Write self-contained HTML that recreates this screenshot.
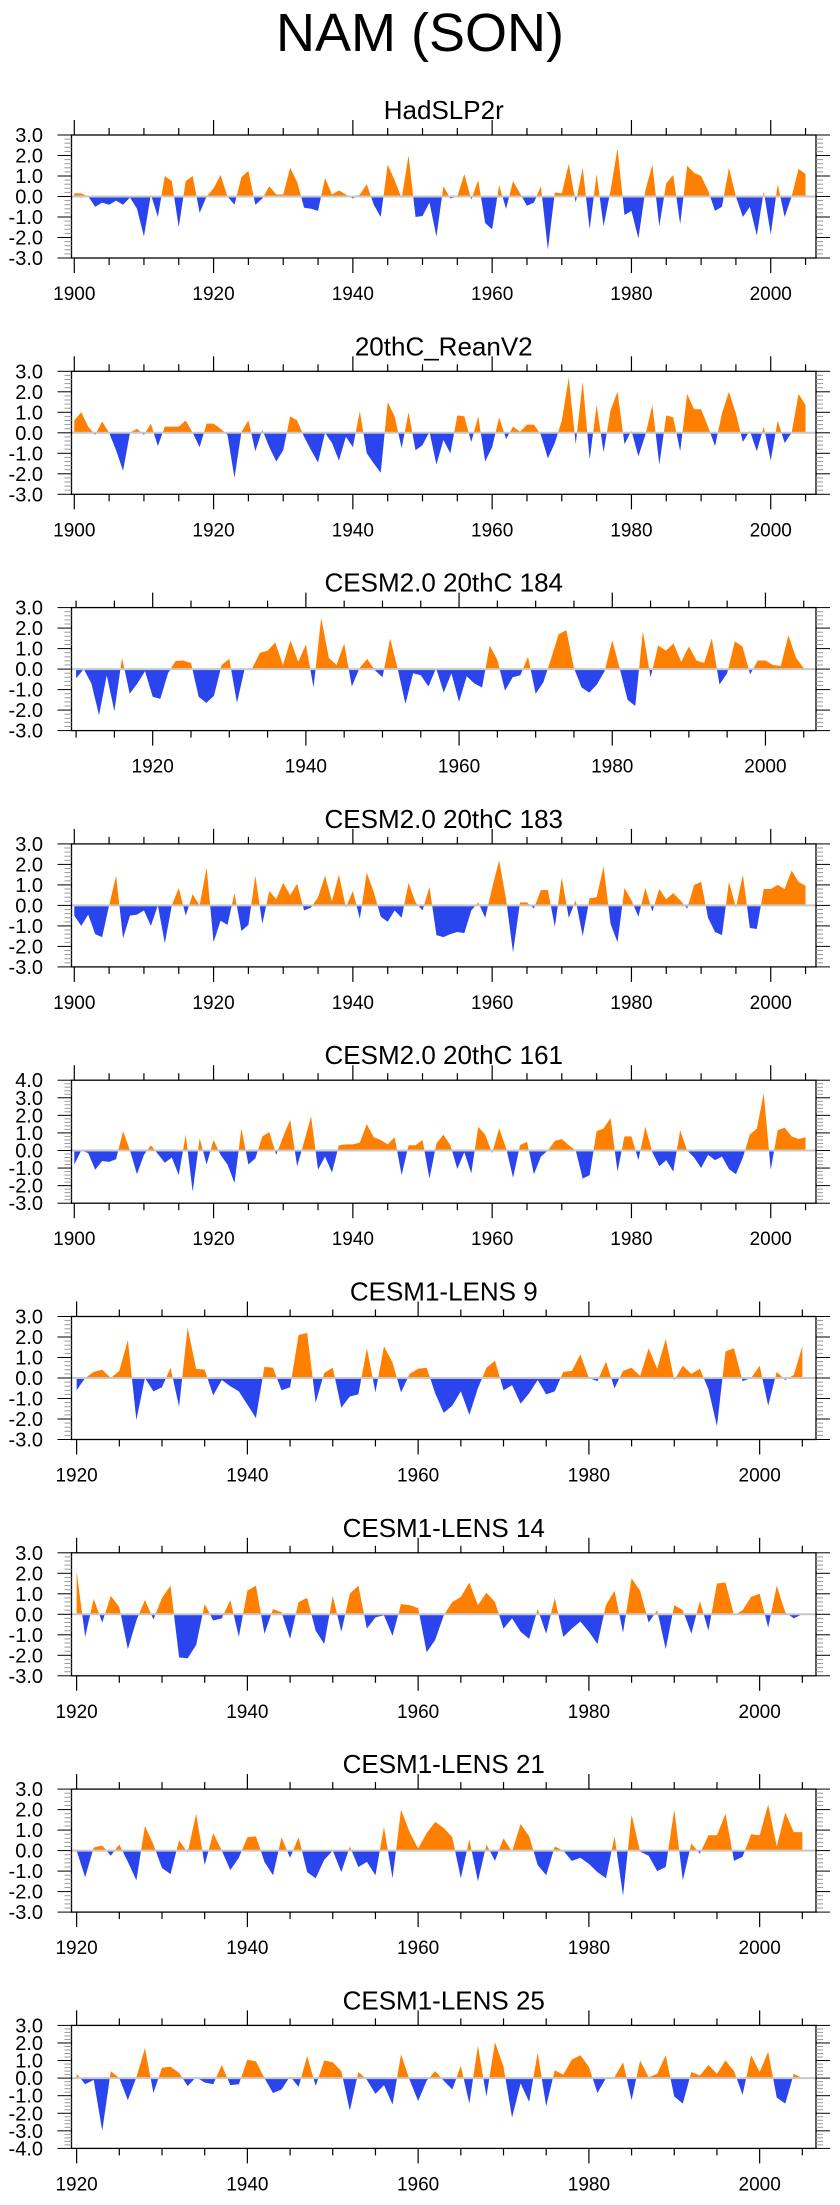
<!DOCTYPE html>
<html><head><meta charset="utf-8">
<style>
html,body{margin:0;padding:0;background:#fff;}
body{width:840px;height:2200px;overflow:hidden;font-family:"Liberation Sans",Arial,sans-serif;}
svg text{font-family:"Liberation Sans",Arial,sans-serif;fill:#000;}
</style></head>
<body>
<svg id="chart" width="840" height="2200" viewBox="0 0 840 2200" xmlns="http://www.w3.org/2000/svg">
<text x="420" y="51" font-size="54" text-anchor="middle">NAM (SON)</text>
</svg>
<script>
const titles = ["HadSLP2r","20thC_ReanV2","CESM2.0 20thC 184","CESM2.0 20thC 183","CESM2.0 20thC 161","CESM1-LENS 9","CESM1-LENS 14","CESM1-LENS 21","CESM1-LENS 25"];
const startYears = [1900,1900,1910,1900,1900,1920,1920,1920,1920];
const yMins = [-3,-3,-3,-3,-3,-3,-3,-3,-4];
const yMaxs = [3,3,3,3,4,3,3,3,3];
const xMins = [1899.6,1899.6,1909.4,1899.6,1899.6,1919.4,1919.4,1919.4,1919.4];
const xMaxs = [2006.5,2006.5,2006.6,2006.5,2006.5,2006.6,2006.6,2006.6,2006.6];
const s1 = [0.16,0.15,0,-0.5,-0.3,-0.4,-0.2,-0.4,-0.05,-0.6,-1.95,0.1,-1.0,1.0,0.75,-1.5,0.75,1.0,-0.8,0,0.4,1.05,0,-0.4,0.95,1.25,-0.4,-0.1,0.5,0.1,0.1,1.4,0.7,-0.55,-0.6,-0.7,0.9,0.1,0.3,0.1,-0.1,0.1,0.6,-0.4,-1.0,1.55,0.8,-0.1,2.0,-1.0,-0.95,-0.3,-1.95,0.5,-0.1,0,1.1,-0.15,0.8,-1.3,-1.6,0.55,-0.6,0.75,0.15,-0.45,-0.3,0.5,-2.6,0.2,0.15,1.6,-0.3,1.4,-1.6,1.1,-1.45,0.3,2.35,-0.9,-0.7,-2.05,0.3,1.55,-1.45,0.65,1.05,-1.35,1.5,1.15,1.0,0.3,-0.7,-0.5,1.4,0,-1.0,-0.5,-1.9,0.25,-1.85,0.6,-1.0,0,1.35,1.1];
const s2 = [0.6,1.0,0.3,-0.1,0.55,0,-0.85,-1.85,0,0.2,-0.1,0.45,-0.65,0.3,0.3,0.3,0.6,0,-0.7,0.45,0.45,0.2,-0.1,-2.2,0.05,0.6,-0.9,0.15,-0.7,-1.4,-0.85,0.8,0.6,-0.2,-0.85,-1.45,0,-0.5,-1.35,-0.2,-0.7,1.05,-1.0,-1.5,-1.95,1.5,0.8,-0.75,1.0,-0.85,-0.6,0.05,-1.55,-0.35,-1.0,0.85,0.8,-0.45,0.8,-1.4,-0.7,0.75,-0.3,0.3,0.05,0.4,0.4,-0.1,-1.25,-0.5,0.6,2.7,-0.55,2.5,-1.3,1.35,-0.95,1.1,2.0,-0.55,0.1,-1.15,-0.1,1.35,-1.55,0.85,0.75,-0.9,1.9,1.15,1.15,0.3,-0.65,0.95,2.0,0.95,-0.45,0.1,-0.9,0.3,-1.35,0.6,-0.5,0,1.9,1.35];
const s3 = [-0.45,0,-0.7,-2.25,-0.3,-2.05,0.55,-1.2,-0.7,-0.1,-1.35,-1.45,-0.2,0.4,0.42,0.3,-1.35,-1.65,-1.3,0.2,0.5,-1.65,0,0.05,0.8,0.9,1.3,0.2,1.4,0.35,1.2,-0.9,2.5,0.55,0.2,1.25,-0.85,0.05,0.5,-0.05,-0.4,1.5,0,-1.7,-0.2,-0.3,-0.85,0.05,-1.15,-0.2,-1.6,-0.35,-0.7,-0.9,1.15,0.45,-1.05,-0.4,-0.3,0.6,-1.2,-0.65,0.5,1.7,1.9,0.05,-0.9,-1.15,-0.75,-0.1,1.4,0,-1.5,-1.8,1.85,-0.4,1.15,0.9,1.25,0.35,1.1,0.42,0.3,1.5,-0.75,-0.2,1.35,1.1,-0.25,0.42,0.42,0.2,0.15,1.65,0.55,0.05];
const s4 = [-0.5,-1.0,-0.45,-1.4,-1.55,0,1.45,-1.6,-0.5,-0.45,-0.25,-1.0,0,-1.85,0,0.85,-0.5,0.55,0,1.85,-1.8,-0.75,-0.95,0.6,-1.25,-0.95,1.45,-0.9,0.7,0.3,1.1,0.5,1.05,-0.25,-0.1,0.4,1.45,0.2,1.5,-0.1,0.7,-0.65,1.6,0.65,-0.55,-0.8,-0.25,-0.6,1.1,0.15,-0.25,0.9,-1.45,-1.55,-1.4,-1.3,-1.35,-0.25,0.15,-0.6,0.85,2.2,0.3,-2.3,0.15,0.15,-0.15,0.75,0.75,-1.05,1.35,-0.6,0.25,-1.5,0.35,0.4,1.9,-0.9,-1.8,0.85,0.25,-0.55,0.85,-0.3,0.8,0.3,0.6,0.25,-0.15,1.0,1.15,-0.6,-1.3,-1.45,1.15,-0.1,1.5,-1.1,-1.15,0.8,0.8,1.0,0.8,1.7,1.15,0.95];
const s5 = [-0.8,0,-0.15,-1.1,-0.6,-0.65,-0.5,1.1,0,-1.35,-0.25,0.3,-0.2,-0.7,-0.4,-1.4,0.9,-2.35,0.7,-0.8,0.6,-0.25,-0.8,-1.85,1.25,-0.8,-0.45,0.8,1.05,-0.25,0.8,1.75,-0.9,0.5,1.95,-1.1,-0.35,-1.25,0.3,0.35,0.35,0.45,1.5,0.75,0.6,0.35,0.75,-1.4,0.3,0.3,0.6,-1.6,0.4,0.9,0.3,-1.05,-0.1,-1.3,1.35,0.9,-0.15,1.25,0.15,-1.55,0.3,0.5,-1.35,-0.35,0,0.55,0.65,0.3,0,-1.6,-1.4,1.1,1.25,1.85,-1.2,0.8,0.8,-0.55,1.35,-0.1,-0.9,-0.55,-1.2,1.15,0,-0.4,-1.0,-0.25,-0.55,-0.35,-1.05,-1.35,-0.4,0.9,1.25,3.25,-1.1,1.15,1.3,0.8,0.65,0.75];
const s6 = [-0.6,0,0.3,0.4,0,0.35,1.85,-2.05,0,-0.65,-0.45,0.5,-1.4,2.45,0.45,0.4,-0.85,-0.1,-0.4,-0.65,-1.3,-1.95,0.55,0.5,-0.6,-0.45,2.1,2.2,-1.2,0.25,0.5,-1.45,-0.9,-0.8,1.45,-0.7,1.55,0.75,-0.7,0.2,0.45,0.5,-0.75,-1.7,-1.35,-0.65,-1.8,-0.5,0.5,0.85,-0.6,-0.35,-1.25,-0.75,-0.1,-0.8,-0.65,0.3,0.35,1.15,0,-0.15,0.8,-0.5,0.35,0.5,0.1,1.45,0.45,1.9,-0.1,0.6,0.2,0.45,-0.55,-2.35,1.3,1.45,-0.15,0,0.6,-1.35,0.3,-0.1,0.15,1.55];
const s7 = [2.1,-1.1,0.75,-0.4,0.9,0.35,-1.7,-0.3,0.7,-0.25,0.8,1.4,-2.1,-2.15,-1.5,0.5,-0.3,-0.2,0.7,-1.1,1.15,1.4,-0.95,0.25,0.1,-1.2,0.6,0.8,-0.8,-1.45,0.9,-0.85,1.0,1.4,-0.7,-0.15,-0.05,-1.05,0.5,0.45,0.3,-1.85,-1.25,-0.05,0.6,0.85,1.55,0.45,1.05,0.6,-0.7,-0.2,-0.85,-1.2,0.25,-0.95,0.8,-1.1,-0.7,-0.35,-0.85,-1.45,0.45,1.15,-0.9,1.75,1.15,-0.4,0.2,-1.7,0.45,0.2,-0.95,0.65,-0.8,1.5,1.55,-0.05,0.2,0.85,1.0,-0.65,1.4,0.1,-0.2,0];
const s8 = [0,-1.3,0.15,0.25,-0.25,0.3,-0.55,-1.45,1.2,0.3,-0.85,-1.15,0.5,-0.1,1.8,-0.7,0.85,0,-0.95,-0.35,0.65,0.7,-0.55,-1.2,0.65,-0.35,0.65,-1.05,-1.35,-0.45,0,-1.05,0.2,-0.8,-0.55,-1.2,1.15,-1.35,2.0,0.9,0.1,0.85,1.4,1.1,0.65,-1.35,0.55,-1.5,0.3,-0.5,0.6,-0.05,1.3,0.7,-0.7,-1.2,0.2,0,-0.5,-0.35,-0.65,-1.05,-1.35,0.7,-2.2,1.75,-0.05,-0.25,-1.0,-0.8,2.0,-1.45,0.35,-0.15,0.75,0.75,1.8,-0.5,-0.3,0.8,0.75,2.25,0.2,1.85,0.9,0.9];
const s9 = [0.25,-0.35,-0.1,-3.0,0.4,0,-1.25,0.05,1.7,-0.85,0.6,0.65,0.3,-0.45,0.05,-0.25,-0.35,0.75,-0.4,-0.35,1.05,0.95,0,-0.85,-0.65,0.1,-0.5,1.25,-0.45,1.0,0.9,0.4,-1.85,0.35,-0.1,-0.9,-0.4,-1.5,1.35,-0.1,-1.3,-0.15,0.4,-0.15,-0.65,0.7,-1.45,1.85,-1.05,2.05,0.65,-2.25,-0.3,-1.35,1.45,-1.6,0.45,0.2,1.05,1.3,0.65,-0.85,0,0.05,0.9,-1.25,1.0,0.05,0.25,1.3,-1.05,-1.45,0.35,0.15,0.75,0.25,1.0,0.4,-0.95,1.3,0.35,1.5,-1.1,-1.45,0.25,0];
const series = [s1,s2,s3,s4,s5,s6,s7,s8,s9];

const NS = "http://www.w3.org/2000/svg";
const svg = document.getElementById("chart");
const BOX_L = 71.5, BOX_R = 816, BOX_H = 123, TOP0 = 135, STEP = 236.3;
function mk(tag, attrs, parent) {
  const el = document.createElementNS(NS, tag);
  for (const k in attrs) el.setAttribute(k, attrs[k]);
  (parent || svg).appendChild(el);
  return el;
}
function line(g, x1, y1, x2, y2, w, c) {
  return mk("line", {x1: x1, y1: y1, x2: x2, y2: y2, stroke: c || "#000", "stroke-width": w || 1}, g);
}

series.forEach(function(vals, p) {
  const top = TOP0 + p * STEP, bot = top + BOX_H;
  const xMin = xMins[p], xMax = xMaxs[p], yMin = yMins[p], yMax = yMaxs[p];
  const xs = function(yr) { return BOX_L + (yr - xMin) / (xMax - xMin) * (BOX_R - BOX_L); };
  const ys = function(v) { return top + (yMax - v) / (yMax - yMin) * BOX_H; };
  const g = mk("g", {});
  
  

  const t = mk("text", {x: (BOX_L + BOX_R) / 2, y: top - 16, "font-size": 26, "text-anchor": "middle"}, g);
  t.textContent = titles[p];
  
  

  const y0 = ys(0);
  const defs = mk("defs", {}, g);
  const cpA = mk("clipPath", {id: "ca" + p}, defs);
  mk("rect", {x: BOX_L, y: top, width: BOX_R - BOX_L, height: y0 - top}, cpA);
  const cpB = mk("clipPath", {id: "cb" + p}, defs);
  mk("rect", {x: BOX_L, y: y0, width: BOX_R - BOX_L, height: bot - y0}, cpB);

  const x0 = xs(startYears[p]), xN = xs(startYears[p] + vals.length - 1);
  let d = "M" + x0.toFixed(2) + "," + y0.toFixed(2);
  vals.forEach(function(v, i) { d += " L" + xs(startYears[p] + i).toFixed(2) + "," + ys(v).toFixed(2); });
  d += " L" + xN.toFixed(2) + "," + y0.toFixed(2) + " Z";
  const pos = mk("path", {d: d, fill: "#ff8000", "clip-path": "url(#ca" + p + ")"}, g);
  
  
  const neg = mk("path", {d: d, fill: "#2a44ee", "clip-path": "url(#cb" + p + ")"}, g);
  
  

  const zl = line(g, BOX_L, y0, BOX_R, y0, 2, "#c8c8c8");
  
  

  const box = mk("rect", {x: BOX_L, y: top, width: BOX_R - BOX_L, height: BOX_H, fill: "none", stroke: "#000", "stroke-width": 1.3}, g);
  
  

  for (let k = 0; k <= (yMax - yMin) * 5; k++) {
    const v = yMin + k * 0.2;
    const y = ys(v);
    const major = k % 5 === 0;
    const len = major ? 14 : 7;
    line(g, BOX_L - len, y, BOX_L, y, 1, major ? "#000" : "#999");
    line(g, BOX_R, y, BOX_R + len, y, 1, major ? "#000" : "#999");
    if (major) {
      const lb = mk("text", {x: 43, y: y + 7, "font-size": 20, "text-anchor": "end"}, g);
      lb.textContent = v.toFixed(1);
      
      
    }
  }
  for (let yr = Math.ceil(xMin / 5) * 5; yr <= xMax; yr += 5) {
    const x = xs(yr);
    const major = yr % 20 === 0;
    const len = major ? 15 : 7;
    line(g, x, top - len, x, top, 1.2);
    line(g, x, bot, x, bot + len, 1.2);
    if (major) {
      const lb = mk("text", {x: x, y: bot + 42, "font-size": 19, "text-anchor": "middle"}, g);
      lb.textContent = yr;
      
      
    }
  }
});
</script>
</body></html>
